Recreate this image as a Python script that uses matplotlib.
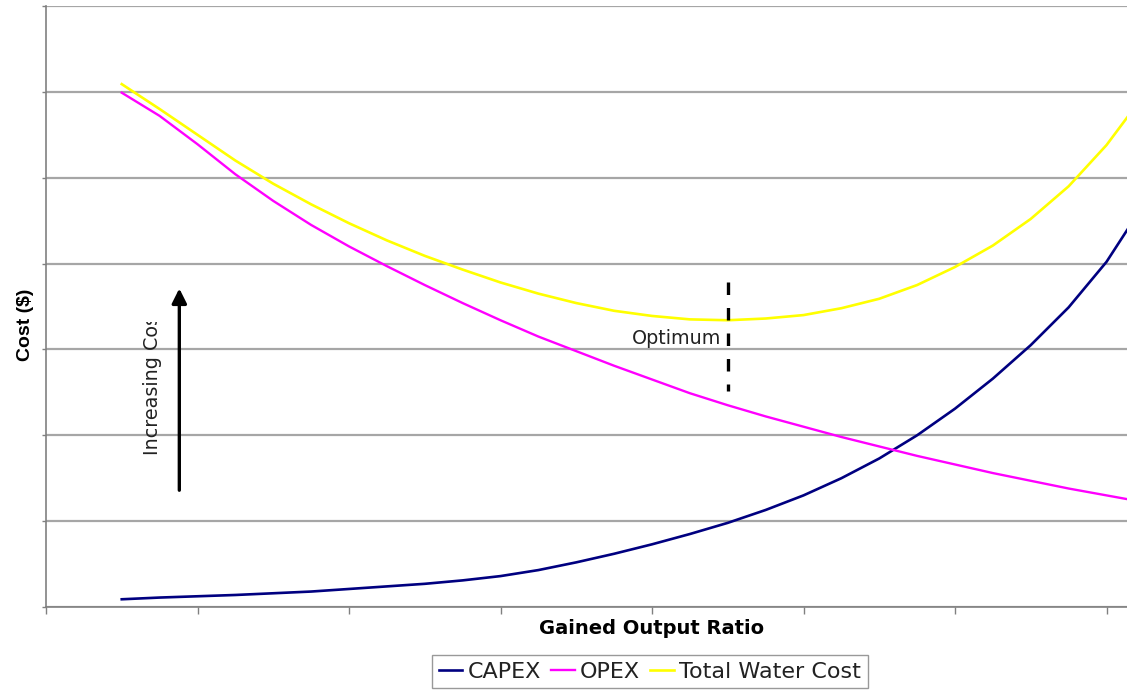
import matplotlib
matplotlib.use("Agg")
import matplotlib.pyplot as plt
from matplotlib.patches import Rectangle

# ---- data (arbitrary units, axis is unlabeled) ----
gor = [0.50, 0.75, 1.00, 1.25, 1.50, 1.75, 2.00, 2.25, 2.50, 2.75, 3.00, 3.25, 3.50, 3.75,
       4.00, 4.25, 4.50, 4.75, 5.00, 5.25, 5.50, 5.75, 6.00, 6.25, 6.50, 6.75, 7.00, 7.25]
capex = [0.09, 0.11, 0.125, 0.14, 0.16, 0.18, 0.21, 0.24, 0.27, 0.31, 0.36, 0.43, 0.52, 0.62,
         0.73, 0.85, 0.98, 1.13, 1.30, 1.50, 1.73, 2.00, 2.31, 2.66, 3.05, 3.49, 4.02, 4.70]
opex = [5.99, 5.72, 5.39, 5.04, 4.73, 4.45, 4.20, 3.97, 3.75, 3.54, 3.34, 3.15, 2.98, 2.81,
        2.65, 2.49, 2.35, 2.22, 2.10, 1.98, 1.87, 1.76, 1.66, 1.56, 1.47, 1.38, 1.30, 1.22]
total = [6.09, 5.80, 5.50, 5.20, 4.93, 4.69, 4.47, 4.27, 4.09, 3.93, 3.78, 3.65, 3.54, 3.45,
         3.39, 3.35, 3.34, 3.36, 3.40, 3.48, 3.59, 3.75, 3.96, 4.21, 4.52, 4.90, 5.38, 5.97]
series_names = ["CAPEX", "OPEX", "Total Water Cost"]
optimum_x = 4.50
optimum_span = (2.51, 3.78)
arrow_x = 0.88
arrow_span = (1.36, 3.71)

W, H = 1127, 690
fig = plt.figure(figsize=(W / 100, H / 100), dpi=100)
plt.rcParams['font.family'] = ['DejaVu Sans']

ax = fig.add_axes([46 / W, (H - 607) / H, (W - 46) / W, (607 - 6) / H])
ax.set_xlim(0, (W - 46) / 151.5)
ax.set_ylim(0, 7)

grid_col = "#a6a6a6"
ax.set_yticks(range(0, 8))
ax.set_xticks(range(0, 8))
ax.yaxis.grid(True, color=grid_col, linewidth=1.6)
ax.set_axisbelow(True)
ax.tick_params(axis='x', direction='out', length=5, width=1, color="#808080",
               labelbottom=False)
ax.tick_params(axis='y', direction='out', length=3, width=1, color="#808080",
               labelleft=False)
for s in ['top', 'right']:
    ax.spines[s].set_visible(False)
for s in ['left', 'bottom']:
    ax.spines[s].set_color("#808080")
    ax.spines[s].set_linewidth(1.2)

ax.plot(gor, capex, color="#000080", lw=1.9, label=series_names[0], zorder=3,
        solid_joinstyle='round')
ax.plot(gor, opex, color="#ff00ff", lw=1.7, label=series_names[1], zorder=3,
        solid_joinstyle='round')
ax.plot(gor, total, color="#ffff00", lw=1.9, label=series_names[2], zorder=3,
        solid_joinstyle='round')

# optimum marker
ax.plot([optimum_x, optimum_x], [optimum_span[1], optimum_span[0]], color="black",
        lw=2.4, ls=(0, (3.75, 3.9)), zorder=4, dash_capstyle='butt')
ax.text(optimum_x - 0.045, 3.13, "Optimum", fontsize=13.8, ha='right', va='center',
        color="#222222")

# increasing cost arrow
ax.annotate("", xy=(arrow_x, arrow_span[1]), xytext=(arrow_x, arrow_span[0]),
            arrowprops=dict(arrowstyle='-|>', color='black', lw=2.4, mutation_scale=22,
                            shrinkA=0, shrinkB=0))
t = ax.text(0.70, 1.77, "Increasing Cost", rotation=90, fontsize=13.8, ha='center',
            va='bottom', color="#222222")
clip = Rectangle((0.4, 1.0), 0.6, 2.32, transform=ax.transData, visible=False)
ax.add_patch(clip)
t.set_clip_on(True)
t.set_clip_path(clip)

# labels
fig.text(25 / W, 1 - 325 / H, "Cost ($)", rotation=90, fontsize=14, fontweight='bold',
         ha='center', va='center', family=['Liberation Sans', 'DejaVu Sans'])
fig.text(652 / W, 1 - 628 / H, "Gained Output Ratio", fontsize=14, fontweight='bold',
         ha='center', va='center')

leg = fig.legend(loc='upper center', bbox_to_anchor=(650 / W, 1 - 655 / H), ncol=3,
                 fontsize=16, frameon=True, fancybox=False, handlelength=1.05,
                 handletextpad=0.25, columnspacing=0.45, borderpad=0.3,
                 borderaxespad=0)
leg.get_frame().set_edgecolor("#808080")
leg.get_frame().set_linewidth(1.0)
for txt in leg.get_texts():
    txt.set_color("#222222")

fig.savefig("out.png", dpi=100)
